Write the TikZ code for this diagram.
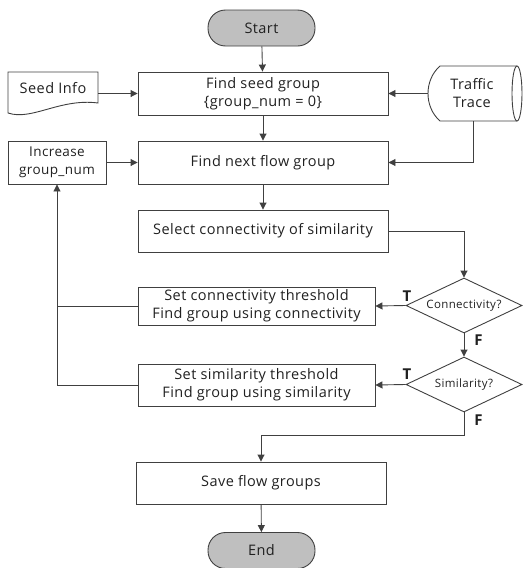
\documentclass[tikz,border=0pt]{standalone}
\usepackage{fontspec}
\setmainfont{Open Sans}[LetterSpace=3]
\usetikzlibrary{shapes.geometric,arrows.meta,calc}
\definecolor{ln}{HTML}{404040}
\definecolor{tx}{HTML}{202020}
\definecolor{term}{HTML}{BFBFBF}
\begin{document}
\begin{tikzpicture}[x=1pt,y=-1pt,
  every node/.style={text=tx,font=\fontsize{14.5}{18}\selectfont},
  box/.style={draw=ln,line width=0.9pt,rectangle,minimum width=250pt,minimum height=43pt,align=center,inner sep=0pt},
  termnode/.style={draw=ln,line width=0.9pt,fill=term,rectangle,rounded corners=17.5pt,minimum width=107pt,minimum height=36pt,inner sep=0pt},
  dec/.style={draw=ln,line width=0.9pt,diamond,aspect=2.1,minimum width=116pt,minimum height=55pt,inner sep=0pt,font=\fontsize{11.5}{14}\selectfont},
  arr/.style={draw=ln,line width=0.9pt,-{Triangle[length=7pt,width=7pt]}},
  ln/.style={draw=ln,line width=0.9pt},
  tf/.style={font=\bfseries\fontsize{15}{17}\selectfont,inner sep=0pt}]
\useasboundingbox (0,0) rectangle (528,568);
% nodes
\node[termnode] (start) at (261.5,28) {Start};
\node[box] (seed) at (263,93.5) {Find seed group\\\{group\_num = 0\}};
\node[box] (next) at (263,162.5) {Find next flow group};
\node[box,minimum width=98pt,font=\fontsize{13.5}{18}\selectfont] (inc) at (57,162.5) {Increase\\group\_num};
\node[box,minimum height=42pt] (sel) at (263,231) {Select connectivity of similarity};
\node[dec] (conn) at (464,305.5) {Connectivity?};
\node[box,minimum width=237pt,minimum height=38pt] (setc) at (256.5,306) {Set connectivity threshold\\Find group using connectivity};
\node[dec] (sim) at (464,384.5) {Similarity?};
\node[box,minimum width=237pt,minimum height=42pt] (sets) at (256.5,385) {Set similarity threshold\\Find group using similarity};
\node[box,minimum height=42pt] (save) at (261,483) {Save flow groups};
\node[termnode] (end) at (261.5,550.5) {End};
% seed info (document shape)
\node[inner sep=0pt,minimum width=90pt] (info) at (53,88) {Seed Info};
\draw[ln] (8,72) -- (98,72) -- (98,103) .. controls (60,98) and (32,121) .. (8,113) -- cycle;
% traffic trace (stored data)
\node[align=center,inner sep=0pt] (trace) at (472,93.5) {Traffic\\Trace};
\draw[ln] (440,66) -- (517,66) (440,121) -- (517,121)
  (440,66) .. controls (424,80) and (424,107) .. (440,121);
\draw[ln] (517,93.5) ellipse [x radius=5, y radius=27.5];
\coordinate (trw) at (428,93.5);
\coordinate (trs) at (473,121);
% connectors
\draw[arr] (start) -- (seed);
\draw[arr] (info.east |- seed.west) -- (seed.west);
\draw[arr] (trw) -- (seed.east);
\draw[arr] (seed) -- (next);
\draw[arr] (trs) |- (next.east);
\draw[arr] (inc.east) -- (next.west);
\draw[arr] (next) -- (sel);
\draw[arr] (sel.east) -| (conn.north);
\draw[arr] (conn.west) -- (setc.east);
\draw[arr] (conn.south) -- (sim.north);
\draw[arr] (sim.west) -- (sets.east);
\coordinate (bend) at (464,435);
\draw[arr] (sim.south) -- (bend) -| (save.north);
\draw[arr] (save) -- (end);
\draw[arr] (sets.west) -| (inc.south);
\draw[ln] (setc.west) -- (setc.west -| inc.south);
% labels
\node[tf] (t1) at (407,296) {T};
\node[tf] (f1) at (478.5,340) {F};
\node[tf] (t2) at (407,374) {T};
\node[tf] (f2) at (478.5,420) {F};
\end{tikzpicture}
\end{document}
